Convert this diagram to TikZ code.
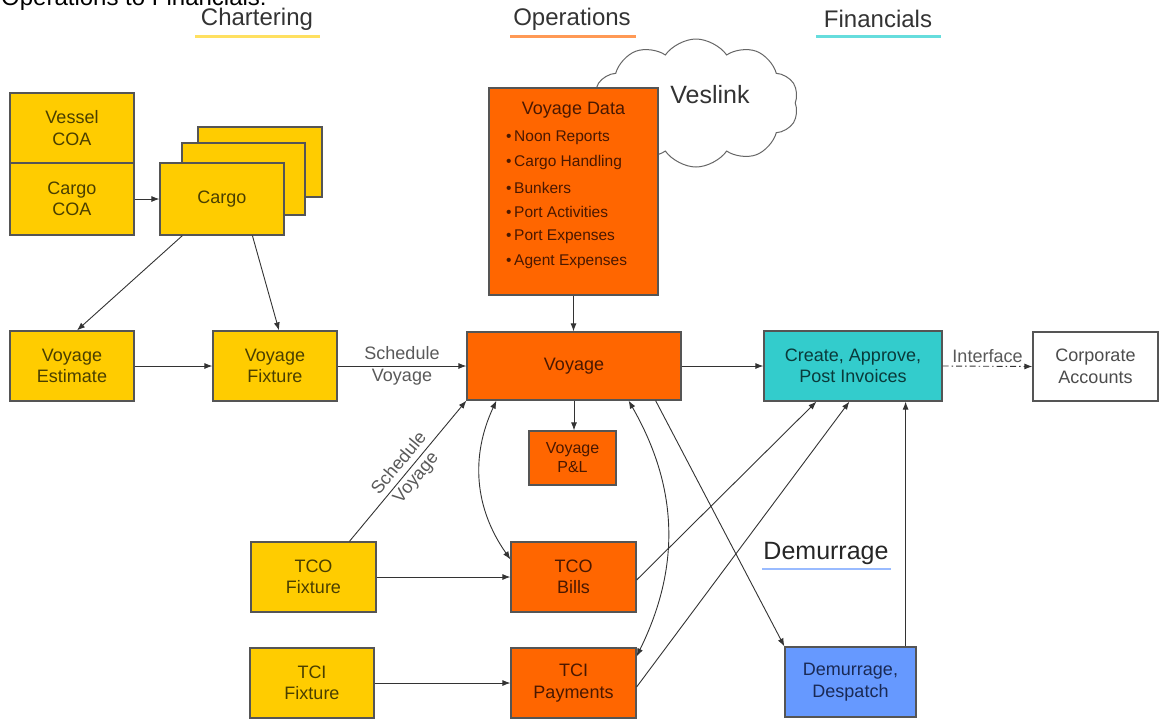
\documentclass[tikz,border=0pt]{standalone}
\usepackage{fontspec}
\setmainfont{Liberation Sans}
\usetikzlibrary{arrows.meta,shapes.symbols}
\definecolor{cyel}{HTML}{FFCC00}
\definecolor{corg}{HTML}{FF6600}
\definecolor{cteal}{HTML}{33CCCC}
\definecolor{cblue}{HTML}{6699FF}
\definecolor{tyel}{HTML}{4A3F00}
\definecolor{torg}{HTML}{4A1800}
\definecolor{tteal}{HTML}{0A3A3A}
\definecolor{tblue}{HTML}{1A2A55}
\definecolor{edge}{HTML}{555555}
\definecolor{lnk}{HTML}{333333}
\definecolor{ulyel}{HTML}{FFE060}
\definecolor{ulorg}{HTML}{FF9955}
\definecolor{ulcyan}{HTML}{66DDDD}
\definecolor{ulblue}{HTML}{99BBFF}
\begin{document}
\begin{tikzpicture}[x=1pt,y=-1pt,
  box/.style={draw=edge,line width=1.2pt,rectangle,align=center,inner sep=2pt,
    font=\fontsize{18}{21.5}\selectfont},
  ybox/.style={box,fill=cyel,text=tyel},
  obox/.style={box,fill=corg,text=torg},
  conn/.style={draw=lnk,line width=0.9pt,-{Latex[length=8pt,width=6pt]}},
  dconn/.style={draw=lnk,line width=0.9pt,{Latex[length=8pt,width=6pt]}-{Latex[length=8pt,width=6pt]}},
  lbl/.style={text=black!65,font=\fontsize{18}{22}\selectfont,align=center,inner sep=1pt},
  head/.style={text=black!80,font=\fontsize{24}{28}\selectfont,inner sep=0pt}]
\useasboundingbox (0,0) rectangle (1160,724);

% headers
\node[anchor=base west,inner sep=0pt,font=\fontsize{24}{28}\selectfont] (top) at (1,5) {Operations to Financials:};
\node[head] (hchart) at (257,19) {Chartering};
\node[head] (hops) at (572,19) {Operations};
\node[head] (hfin) at (878,19) {Financials};
\draw[ulyel,line width=3pt] (195,36) -- (320,36);
\draw[ulorg,line width=3pt] (510,36) -- (636,36);
\draw[ulcyan,line width=3pt] (816,36) -- (941,36);

% cloud
\node[cloud,draw=black!60,line width=1pt,fill=white,cloud puffs=10,cloud puff arc=110,aspect=1.6,
  minimum width=205pt,minimum height=128pt] (cloud) at (696,103) {};
\node[font=\fontsize{25}{28}\selectfont,text=black!80,inner sep=0pt] (veslink) at (710,95) {Veslink};

% chartering boxes
\node[ybox,minimum width=124pt,minimum height=70pt] (vessel) at (72,128) {Vessel\\COA};
\node[ybox,minimum width=124pt,minimum height=72pt] (cargocoa) at (72,199) {Cargo\\COA};
\node[ybox,minimum width=124pt,minimum height=70pt] (cargoc) at (260,162) {};
\node[ybox,minimum width=123pt,minimum height=72pt] (cargob) at (243.5,179) {};
\node[ybox,minimum width=124pt,minimum height=72pt] (cargo) at (222,199) {Cargo};
\node[ybox,minimum width=124pt,minimum height=70pt] (vest) at (72,366) {Voyage\\Estimate};
\node[ybox,minimum width=124pt,minimum height=70pt] (vfix) at (275,366) {Voyage\\Fixture};
\node[ybox,minimum width=125pt,minimum height=70pt] (tcofix) at (313.5,577) {TCO\\Fixture};
\node[ybox,minimum width=124pt,minimum height=70pt] (tcifix) at (312,683) {TCI\\Fixture};

% operations boxes
\node[obox,minimum width=169pt,minimum height=207pt] (vdata) at (573.5,191.5) {};
\node[text=torg,font=\fontsize{18}{21}\selectfont,inner sep=0pt] (vdtitle) at (573.5,110) {Voyage Data};
\foreach \i/\t in {0/Noon Reports,1/Cargo Handling,2/Bunkers,3/Port Activities,4/Port Expenses,5/Agent Expenses}{
  \node[anchor=west,text=torg,font=\fontsize{15.5}{18}\selectfont,inner sep=0pt] (vd\i) at (506,138+24.8*\i) {\textbullet\,\t};
}
\node[obox,minimum width=214pt,minimum height=68pt] (voyage) at (574,366) {Voyage};
\node[obox,minimum width=87pt,minimum height=54pt,font=\fontsize{16}{19}\selectfont] (pl) at (572.5,458) {Voyage\\P\&L};
\node[obox,minimum width=125pt,minimum height=70pt] (tcobills) at (573.5,577) {TCO\\Bills};
\node[obox,minimum width=125pt,minimum height=70pt] (tcipay) at (573.5,683) {TCI\\Payments};

% financials
\node[box,fill=cteal,text=tteal,minimum width=178pt,minimum height=70pt] (create) at (853,366) {Create, Approve,\\Post Invoices};
\node[box,fill=white,text=black!70,minimum width=125pt,minimum height=69pt] (corp) at (1095.5,366.5) {Corporate\\Accounts};
\node[box,fill=cblue,text=tblue,minimum width=131pt,minimum height=70pt] (dem) at (850.5,682) {Demurrage,\\Despatch};
\node[font=\fontsize{25}{28}\selectfont,text=black!85,inner sep=0pt] (demlbl) at (826,553) {Demurrage};
\draw[ulblue,line width=2.5pt] (762,569) -- (891,569);

% connectors
\draw[conn] (cargocoa.east) -- (cargo.west);
\draw[conn] ([xshift=23pt]cargo.south west) -- ([xshift=5pt]vest.north);
\draw[conn] ([xshift=93pt]cargo.south west) -- ([xshift=4pt]vfix.north);
\draw[conn] (vest.east) -- (vfix.west);
\draw[conn] (vfix.east) -- node[lbl] {Schedule\\Voyage} (voyage.west);
\draw[conn] (vdata.south) -- (vdata.south |- voyage.north);
\draw[conn] (voyage.south) -- (voyage.south |- pl.north);
\draw[conn] (voyage.east) -- (create.west);
\draw[draw=lnk,line width=0.9pt,dash pattern=on 6pt off 3pt on 1.5pt off 3pt,-{Latex[length=8pt,width=6pt]}] (create.east) -- node[lbl,above=2pt] {Interface} (corp.west);
\draw[conn] (tcofix.east) -- (tcobills.west);
\draw[conn] (tcifix.east) -- (tcipay.west);
\draw[conn] ([xshift=99pt]tcofix.north west) -- node[lbl,sloped] {Schedule\\Voyage} (voyage.south west);
\draw[dconn] ([xshift=30pt]voyage.south west) to[bend right=30] ([yshift=-18pt]tcobills.north west);
\draw[dconn] ([xshift=-53pt]voyage.south east) to[bend left=28] ([yshift=-9pt]tcipay.north east);
\draw[conn] ([xshift=-26pt]voyage.south east) -- (dem.north west);
\draw[conn] ([yshift=-3pt]tcobills.east) -- ([xshift=53pt]create.south west);
\draw[conn] ([yshift=-4pt]tcipay.east) -- ([xshift=86pt]create.south west);
\draw[conn] ([xshift=-11pt]dem.north east) -- ([xshift=-11pt]dem.north east |- create.south);
\end{tikzpicture}
\end{document}
